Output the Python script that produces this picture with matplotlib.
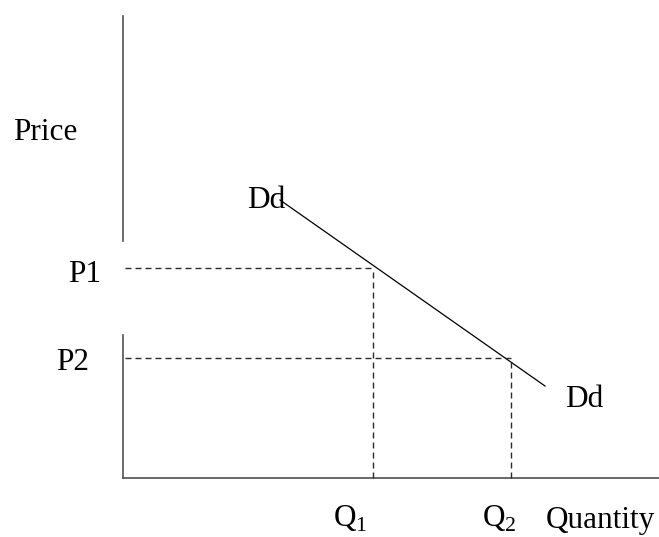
import matplotlib
matplotlib.use('Agg')
import matplotlib.pyplot as plt

plt.rcParams['font.family'] = ['Liberation Serif', 'DejaVu Serif']
plt.rcParams['mathtext.fontset'] = 'custom'
plt.rcParams['mathtext.rm'] = 'Liberation Serif'

# demand curve end points (quantity, price)
demand_q = [157, 422]
demand_p = [278, 92]
# equilibrium points
prices = [210, 120]
quantities = [250, 388]
price_labels = ['P1', 'P2']
qty_labels = [r'$\mathrm{Q}_1$', r'$\mathrm{Q}_2$']

fig = plt.figure(figsize=(6.59, 5.37), dpi=100)
ax = fig.add_axes([0, 0, 1, 1])
ax.set_xlim(-123, 536)
ax.set_ylim(-59, 478)
ax.axis('off')

axis_col = '#505050'
# axes (y axis has a gap where the P1 label sits)
ax.plot([0, 536], [0, 0], color=axis_col, lw=1.2)
ax.plot([0, 0], [0, 143], color=axis_col, lw=1.2)
ax.plot([0, 0], [237, 462], color=axis_col, lw=1.2)

ax.plot(demand_q, demand_p, color='black', lw=0.9)

for p, q in zip(prices, quantities):
    ax.plot([2, q], [p, p], color='#2a2a2a', lw=1.0, dashes=(4.3, 2.9))
    ax.plot([q, q], [0, p], color='#2a2a2a', lw=1.0, dashes=(4.3, 2.9))

fs = 22.5
ax.text(-110, 338, 'Price', fontsize=fs, va='baseline')
ax.text(-55, 196, price_labels[0], fontsize=fs, va='baseline')
ax.text(-67, 108, price_labels[1], fontsize=fs, va='baseline')
ax.text(124, 270, 'Dd', fontsize=fs, va='baseline')
ax.text(442, 71, 'Dd', fontsize=fs, va='baseline')
ax.text(210, -49, qty_labels[0], fontsize=fs, va='baseline')
ax.text(359, -49, qty_labels[1], fontsize=fs, va='baseline')
ax.text(423, -50, 'Quantity', fontsize=fs, va='baseline')

fig.savefig('out.png', dpi=100)
